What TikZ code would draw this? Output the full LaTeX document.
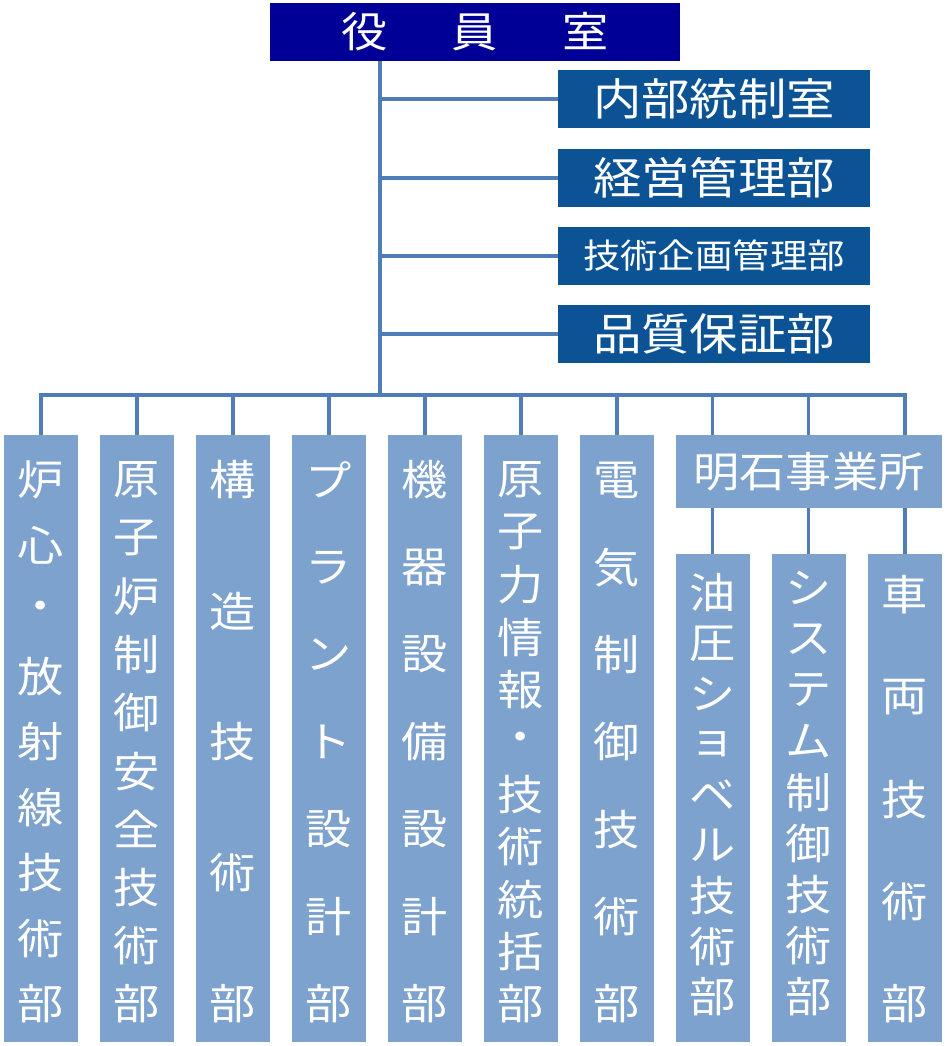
\documentclass[tikz,border=0pt]{standalone}
\usepackage{fontspec}
\newfontfamily\jpfont{Noto Sans CJK JP}[FakeStretch=1.1]
\usepackage{tikz}
\usetikzlibrary{calc}

\definecolor{yakuinblue}{RGB}{0,0,150}
\definecolor{staffblue}{RGB}{12,83,150}
\definecolor{deptblue}{RGB}{125,162,206}
\definecolor{lineblue}{RGB}{79,125,184}

\tikzset{
  conn/.style={draw=lineblue, line width=3.2pt},
  topbox/.style={fill=yakuinblue, text=white, minimum width=410pt, minimum height=58pt,
    inner sep=0pt, font=\jpfont\fontsize{42pt}{42pt}\selectfont},
  staffbox/.style={fill=staffblue, text=white, minimum width=312pt, minimum height=58pt,
    inner sep=0pt, font=\jpfont\fontsize{44pt}{44pt}\selectfont},
  deptbox/.style={fill=deptblue, minimum width=74pt, inner sep=0pt},
  tatechar/.style={text=white, inner sep=0pt, font=\jpfont\fontsize{42pt}{42pt}\selectfont},
}

% vertical text: name, x, first y, last y, characters
\newcommand\tatetext[5]{%
  \foreach \moji [count=\n] in {#5} {\xdef\tatecount{\n}}
  \foreach \moji [count=\i from 0] in {#5}
    \node[tatechar] (#1-\i) at (#2, {#3 + \i*(#4-#3)/(\tatecount-1)}) {\moji};
}

\begin{document}
\begin{tikzpicture}[x=1pt, y=-1pt]
        \useasboundingbox (0,0) rectangle (947,1046);

        \node[topbox] (yakuin) at (475,32) {役\hspace{64pt}員\hspace{64pt}室};
        \coordinate (bus) at (380,395);

        \node[staffbox] (naibu) at (714,99) {内部統制室};
        \node[staffbox] (keiei) at (714,178) {経営管理部};
        \node[staffbox, font=\jpfont\fontsize{34pt}{34pt}\selectfont] (gikan) at (714,256) {技術企画管理部};
        \node[staffbox] (hinsho) at (714,334) {品質保証部};

        \draw[conn] (yakuin.south -| bus) -- (bus);
        \foreach \b in {naibu, keiei, gikan, hinsho}
            \draw[conn] (\b.west) -- (\b.west -| bus);

        % departments
        \node[deptbox, minimum height=607pt] (roshin) at (41,738.5) {};
        \node[deptbox, minimum height=607pt] (rosei) at (137,738.5) {};
        \node[deptbox, minimum height=607pt] (kozo) at (233,738.5) {};
        \node[deptbox, minimum height=607pt] (plant) at (329,738.5) {};
        \node[deptbox, minimum height=607pt] (kiki) at (425,738.5) {};
        \node[deptbox, minimum height=607pt] (genjo) at (521,738.5) {};
        \node[deptbox, minimum height=607pt] (denki) at (617,738.5) {};
        \node[deptbox, minimum width=266pt, minimum height=73pt,
            text=white, font=\jpfont\fontsize{42pt}{42pt}\selectfont] (akashi) at (809,471.5) {明石事業所};
        \node[deptbox, minimum height=488pt] (yuatsu) at (712.5,798) {};
        \node[deptbox, minimum height=488pt] (system) at (808.5,798) {};
        \node[deptbox, minimum height=488pt] (sharyo) at (905,798) {};

        \foreach \b in {roshin, rosei, kozo, plant, kiki, genjo, denki}
            \draw[conn] (\b.north) |- (bus);
        \foreach \b in {yuatsu, system, sharyo} {
            \draw[conn] (\b.north |- akashi.north) |- (bus);
            \draw[conn] (\b.north) -- (\b.north |- akashi.south);
        }

        \tatetext{roshin}{41}{480}{1004}{炉,心,・,放,射,線,技,術,部}
        \tatetext{rosei}{137}{480}{1004}{原,子,炉,制,御,安,全,技,術,部}
        \tatetext{kozo}{233}{480}{1004}{構,造,技,術,部}
        \tatetext{plant}{329}{480}{1004}{プ,ラ,ン,ト,設,計,部}
        \tatetext{kiki}{425}{480}{1004}{機,器,設,備,設,計,部}
        \tatetext{genjo}{521}{480}{1004}{原,子,力,情,報,・,技,術,統,括,部}
        \tatetext{denki}{617}{480}{1004}{電,気,制,御,技,術,部}
        \tatetext{yuatsu}{712.5}{593}{997}{油,圧,シ,ョ,ベ,ル,技,術,部}
        \tatetext{system}{808.5}{588}{997}{シ,ス,テ,ム,制,御,技,術,部}
        \tatetext{sharyo}{905}{595}{1004}{車,両,技,術,部}
    \end{tikzpicture}
\end{document}
